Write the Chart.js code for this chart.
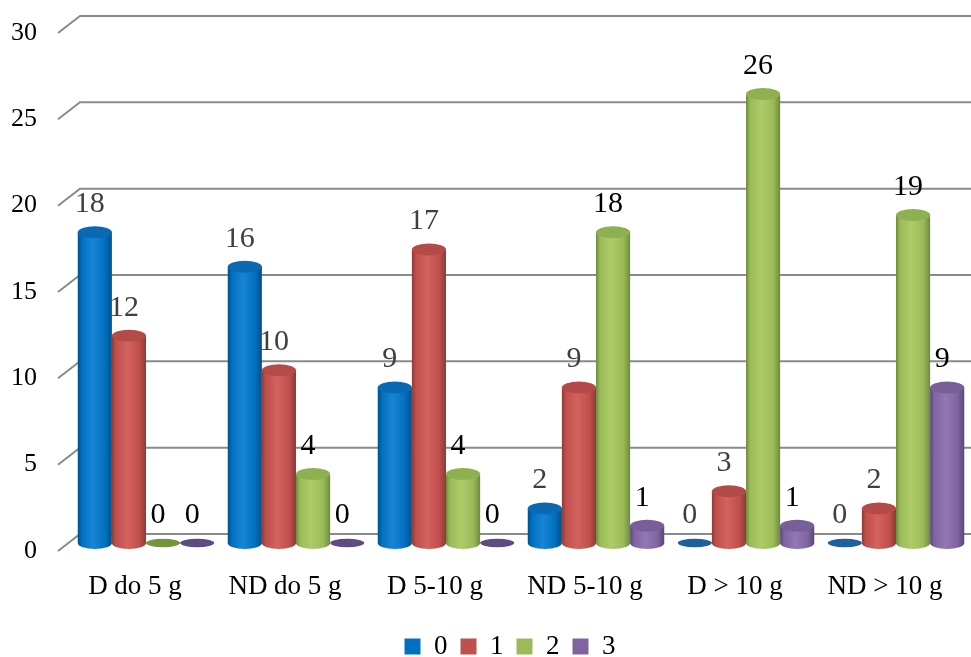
<!DOCTYPE html>
<html>
<head>
<meta charset="utf-8">
<script src="https://cdn.jsdelivr.net/npm/chart.js@4/dist/chart.umd.min.js"></script>
<style>
  html, body { margin: 0; padding: 0; background: #fff; }
  canvas { display: block; }
</style>
</head>
<body>
<canvas id="grafico" width="971" height="657"></canvas>
<script>
// dados
const categorias = ['D do 5 g', 'ND do 5 g', 'D 5-10 g', 'ND 5-10 g', 'D > 10 g', 'ND > 10 g'];
const serie0 = [18, 16, 9, 2, 0, 0];
const serie1 = [12, 10, 17, 9, 3, 2];
const serie2 = [0, 4, 4, 18, 26, 19];
const serie3 = [0, 0, 0, 1, 1, 9];
const nomesSeries = ['0', '1', '2', '3'];
const escalaY = { min: 0, max: 30, passo: 5 };

// cores de cada cilindro: base, brilho, borda escura, tampa, disco do zero
const cores = [
  { base: '#0070C0', luz: '#1a84d4', escuro: '#004f8a', tampa: '#0a69b3', zero: '#1f5f9e' },
  { base: '#C0504D', luz: '#d4625e', escuro: '#8e3a37', tampa: '#b54b48', zero: '#98403d' },
  { base: '#9BBB59', luz: '#adcc68', escuro: '#6f8a3c', tampa: '#8fb050', zero: '#76943f' },
  { base: '#8064A2', luz: '#9178b3', escuro: '#5a4677', tampa: '#77609a', zero: '#5f4a82' }
];
const corRotulo = ['#404040', '#404040', '#000000', '#000000'];

const fonte = 'Liberation Serif, Times New Roman, serif';
const prof = { dx: 22, dy: -17 };   // deslocamento do plano de fundo
const meio = { dx: 11, dy: -8 };    // cilindros no meio da profundidade
const raioTampa = 6;

// grade no plano de fundo com as diagonais do 3D
const gradeFundo = {
  id: 'gradeFundo',
  beforeDatasetsDraw(chart) {
    const ctx = chart.ctx;
    const y = chart.scales.y;
    const esq = chart.chartArea.left;
    ctx.save();
    ctx.strokeStyle = '#8a8a8a';
    ctx.lineWidth = 2;
    for (let v = escalaY.min; v <= escalaY.max; v += escalaY.passo) {
      const py = y.getPixelForValue(v);
      ctx.beginPath();
      ctx.moveTo(esq - 2, py);
      ctx.lineTo(esq - 2 + prof.dx, py + prof.dy);
      ctx.lineTo(chart.width, py + prof.dy);
      ctx.stroke();
    }
    ctx.restore();
  }
};

// desenha as barras como cilindros
const cilindros = {
  id: 'cilindros',
  beforeDatasetsDraw(chart) {
    const ctx = chart.ctx;
    chart.data.datasets.forEach((ds, i) => {
      const meta = chart.getDatasetMeta(i);
      const c = cores[i];
      meta.data.forEach((bar, j) => {
        const w = bar.width;
        const cx = bar.x + meio.dx;
        const topo = bar.y + meio.dy;
        const base = bar.base + meio.dy;
        const rx = w / 2;
        ctx.save();
        if (ds.data[j] === 0) {
          ctx.fillStyle = c.zero;
          ctx.beginPath();
          ctx.ellipse(cx, base, rx, raioTampa * 0.7, 0, 0, Math.PI * 2);
          ctx.fill();
          ctx.restore();
          return;
        }
        const g = ctx.createLinearGradient(cx - rx, 0, cx + rx, 0);
        g.addColorStop(0, c.escuro);
        g.addColorStop(0.12, c.base);
        g.addColorStop(0.45, c.luz);
        g.addColorStop(0.8, c.base);
        g.addColorStop(1, c.escuro);
        ctx.fillStyle = g;
        ctx.beginPath();
        ctx.moveTo(cx - rx, topo);
        ctx.lineTo(cx - rx, base);
        ctx.ellipse(cx, base, rx, raioTampa, 0, Math.PI, 0, true);
        ctx.lineTo(cx + rx, topo);
        ctx.closePath();
        ctx.fill();
        ctx.fillStyle = c.tampa;
        ctx.beginPath();
        ctx.ellipse(cx, topo, rx, raioTampa, 0, 0, Math.PI * 2);
        ctx.fill();
        ctx.restore();
      });
    });
    return false;
  }
};

// rótulos de valor acima dos cilindros
const rotulos = {
  id: 'rotulos',
  afterDraw(chart) {
    const ctx = chart.ctx;
    ctx.save();
    ctx.font = '30px ' + fonte;
    ctx.textAlign = 'center';
    ctx.textBaseline = 'middle';
    chart.data.datasets.forEach((ds, i) => {
      const meta = chart.getDatasetMeta(i);
      ctx.fillStyle = corRotulo[i];
      meta.data.forEach((bar, j) => {
        ctx.fillText(String(ds.data[j]), bar.x + meio.dx - 5, bar.y + meio.dy - 28);
      });
    });
    ctx.restore();
  }
};

// a legenda fica um pouco à direita do centro
const moverLegenda = {
  id: 'moverLegenda',
  afterLayout(chart) {
    chart.legend.left += 25;
    chart.legend.right += 25;
  }
};

const series = [serie0, serie1, serie2, serie3];

const ctx = document.getElementById('grafico').getContext('2d');
const grafico = new Chart(ctx, {
  type: 'bar',
  data: {
    labels: categorias,
    datasets: series.map((valores, i) => ({
      label: nomesSeries[i],
      data: valores,
      backgroundColor: cores[i].base,
      borderWidth: 0,
      barPercentage: 1,
      categoryPercentage: 0.91
    }))
  },
  options: {
    responsive: false,
    animation: false,
    layout: { padding: { left: 10, top: 33, right: 11, bottom: -13 } },
    scales: {
      x: {
        grid: { display: false, drawTicks: false },
        border: { display: false },
        ticks: { color: '#000', font: { family: fonte, size: 27 }, padding: 20 },
        afterFit(scale) { scale.height = 69; }
      },
      y: {
        min: escalaY.min,
        max: escalaY.max,
        grid: { display: false, drawTicks: false },
        border: { display: false },
        ticks: { stepSize: escalaY.passo, color: '#000', font: { family: fonte, size: 26, lineHeight: 0.6 }, padding: 23 },
        afterFit(scale) { scale.width = 50; }
      }
    },
    plugins: {
      legend: {
        position: 'bottom',
        labels: {
          boxWidth: 16,
          boxHeight: 16,
          padding: 13,
          color: '#000',
          font: { family: fonte, size: 27 }
        }
      },
      tooltip: { enabled: false }
    }
  },
  plugins: [gradeFundo, cilindros, rotulos, moverLegenda]
});
</script>
</body>
</html>
